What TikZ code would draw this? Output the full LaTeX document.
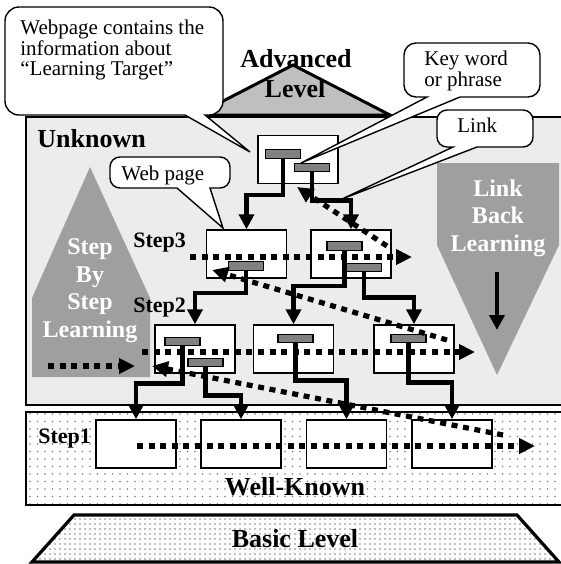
\documentclass[tikz,border=0pt]{standalone}
\usepackage{fontspec}
\setmainfont{Liberation Serif}
\usetikzlibrary{arrows.meta,patterns.meta}

\tikzset{
  page/.style={draw, fill=white, line width=0.75pt, minimum width=40pt, minimum height=24pt, inner sep=0pt},
  bar/.style={draw, fill=gray, line width=0.6pt, minimum width=17.5pt, minimum height=4.3pt, inner sep=0pt},
  flow/.style={line width=2.3pt, -{Triangle[length=7.5pt,width=7.5pt]}},
  jump/.style={line width=2.6pt, dash pattern=on 3pt off 2.8pt, -{Triangle[length=8pt,width=7.5pt]}},
  bubble/.style={draw, fill=white, line width=0.7pt},
  tag/.style={font=\fontsize{10.5}{10.2}\selectfont, align=left, inner sep=0pt},
  lvl/.style={font=\fontsize{13}{15}\selectfont\bfseries, inner sep=0pt},
  steplbl/.style={font=\fontsize{11}{13}\selectfont\bfseries, inner sep=0pt},
  bigarrow/.style={font=\fontsize{12}{13.8}\selectfont\bfseries, text=white, align=center, inner sep=0pt}
}

\begin{document}
\begin{tikzpicture}[x=0.5pt,y=-0.5pt]
  \useasboundingbox (0,0) rectangle (561,564);

  \draw[line width=0.8pt, fill=gray!15] (26,117) rectangle (566,405);
  \draw[line width=0.8pt, preaction={fill=white}, pattern={Dots[distance=3.75pt,radius=0.45pt]}, pattern color=gray] (26,412) rectangle (566,505);
  \draw[line width=1.6pt, preaction={fill=white}, pattern={Dots[distance=2.5pt,radius=0.4pt]}, pattern color=gray] (74,515) -- (517,515) -- (559,562) -- (32,562) -- cycle;

  \fill[gray!75] (90,167) -- (150,298) -- (150,377) -- (32,377) -- (32,298) -- cycle;
  \fill[gray!75] (437,163) -- (559,163) -- (559,245) -- (497,375) -- (437,245) -- cycle;
  \draw[line width=1.5pt, fill=gray!50] (196,115) -- (293,65) -- (390,115) -- cycle;

  \node[lvl, anchor=base] (advTop) at (296,67) {Advanced};
  \node[lvl, anchor=base] (advBot) at (295,97) {Level};
  \node[lvl, anchor=base west] (unknown) at (37,147) {Unknown};
  \node[lvl, anchor=base] (wellKnown) at (295,495) {Well-Known};
  \node[lvl, anchor=base] (basic) at (295,547) {Basic Level};
  \node[steplbl, anchor=base west] (step3) at (133,247) {Step3};
  \node[steplbl, anchor=base west] (step2) at (133,312) {Step2};
  \node[steplbl, anchor=base west] (step1) at (38,443) {Step1};
  \node[bigarrow] (sbs) at (90,290.5) {Step\\By\\Step\\Learning};
  \node[bigarrow] (lbl) at (498,218) {Link\\Back\\Learning};

  \coordinate (lbTop) at (497,272);
  \coordinate (lbEnd) at (497,330);
  \draw[flow] (lbTop) -- (lbEnd);

  \node[page] (pageA) at (298,159.5) {};
  \node[page] (pageB) at (246.5,254) {};
  \node[page] (pageC) at (351,254) {};
  \node[page] (pageD) at (195,349) {};
  \node[page] (pageE) at (293.5,349) {};
  \node[page] (pageF) at (414,349) {};
  \node[page] (pageG) at (136,444) {};
  \node[page] (pageH) at (241,444) {};
  \node[page] (pageI) at (346.5,444) {};
  \node[page] (pageJ) at (452,444) {};

  \node[bar] (barA1) at (283,154) {};
  \node[bar] (barA2) at (312,167.5) {};
  \node[bar] (barB1) at (246,266) {};
  \node[bar] (barC1) at (344.5,246) {};
  \node[bar] (barC2) at (364,267.5) {};
  \node[bar] (barD1) at (182.5,341.5) {};
  \node[bar] (barD2) at (205.5,362.5) {};
  \node[bar] (barE1) at (295.5,338.5) {};
  \node[bar] (barF1) at (408.5,338.5) {};

  \draw[flow] (barA1.south) -- ++(0,36) -| (pageB.north);
  \draw[flow] (barA2.south) -- ++(0,28) -| (pageC.north);
  \draw[flow] (barB1.south) -- ++(0,22) -| (pageD.north);
  \draw[flow] (barC1.south) -- ++(0,35) -| (pageE.north);
  \draw[flow] (barC2.south) -- ++(0,25) -| (pageF.north);
  \draw[flow] (barD1.south) -- ++(0,37) -| (pageG.north);
  \draw[flow] (barD2.south) -- ++(0,28) -| (pageH.north);
  \draw[flow] (barE1.south) -- ++(0,37) -| (pageI.north);
  \draw[flow] (barF1.south) -- ++(0,39) -| (pageJ.north);

  \coordinate (s3From) at (190,257);
  \coordinate (s3To) at (412,257);
  \coordinate (s2From) at (142,352);
  \coordinate (s2To) at (475,352);
  \coordinate (s1From) at (137,446);
  \coordinate (s1To) at (535,446);
  \coordinate (inFrom) at (48,366);
  \coordinate (inTo) at (135,366);
  \draw[jump] (s3From) -- (s3To);
  \draw[jump] (s2From) -- (s2To);
  \draw[jump] (s1From) -- (s1To);
  \draw[jump] (inFrom) -- (inTo);

  \coordinate (back1) at (387,246);
  \coordinate (back2) at (447,340);
  \coordinate (back3) at (503,435);
  \coordinate (back1To) at (297,187);
  \coordinate (back2To) at (212,270);
  \coordinate (back3To) at (152,366);
  \draw[jump] (back1) -- (back1To);
  \draw[jump] (back2) -- (back2To);
  \draw[jump] (back3) -- (back3To);

  \draw[bubble] (120,115) -- (185,115) -- (250,152) -- (205,115) -- (209,115) [rounded corners=7pt] -- (223,115) -- (223,7) -- (5,7) -- (5,115) -- cycle;
  \draw[bubble] (490,97) -- (460,97) -- (301,163) -- (427,97) -- (416,97) [rounded corners=6pt] -- (404,97) -- (404,43) -- (540,43) -- (540,97) -- cycle;
  \draw[bubble] (500,147) -- (477,147) -- (342,199) -- (453,147) -- (447,147) [rounded corners=5pt] -- (437,147) -- (437,110) -- (533,110) -- (533,147) -- cycle;
  \draw[bubble] (140,188) -- (177,188) -- (223,228) -- (210,188) -- (220,188) [rounded corners=5pt] -- (230,188) -- (230,157) -- (110,157) -- (110,188) -- cycle;

  \node[tag, anchor=west] (targetText) at (20,50.3) {Webpage contains the\\information about\\“Learning Target”};
  \node[tag, anchor=west] (keyText) at (424,71) {Key word\\or phrase};
  \node[tag, anchor=base west] (linkText) at (457,132) {Link};
  \node[tag, anchor=base west] (webText) at (121,180) {Web page};
\end{tikzpicture}
\end{document}
